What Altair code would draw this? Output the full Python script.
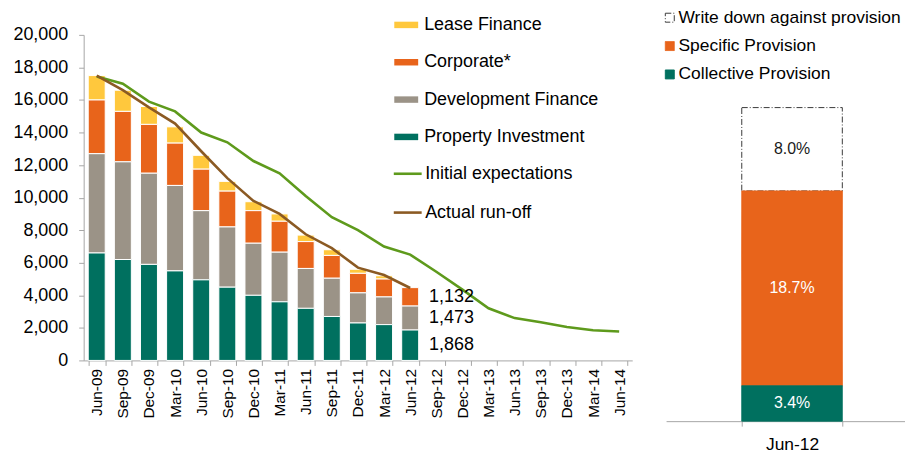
import altair as alt
import pandas as pd

# ---------------- data ----------------
quarters = ["Jun-09", "Sep-09", "Dec-09", "Mar-10", "Jun-10", "Sep-10", "Dec-10",
            "Mar-11", "Jun-11", "Sep-11", "Dec-11", "Mar-12", "Jun-12", "Sep-12",
            "Dec-12", "Mar-13", "Jun-13", "Sep-13", "Dec-13", "Mar-14", "Jun-14"]
bar_quarters = quarters[:13]

bar_series = ["Lease Finance", "Corporate*", "Development Finance", "Property Investment"]
lease_finance = [1500, 1300, 1100, 1000, 850, 600, 550, 450, 400, 350, 250, 200, 0]
corporate = [3300, 3100, 3000, 2600, 2550, 2200, 2000, 1900, 1650, 1400, 1200, 1100, 1132]
development_finance = [6100, 6000, 5600, 5250, 4250, 3700, 3200, 3050, 2450, 2350, 1850, 1700, 1473]
property_investment = [6600, 6200, 5900, 5500, 4950, 4500, 4000, 3600, 3200, 2700, 2300, 2200, 1868]

line_series = ["Initial expectations", "Actual run-off"]
initial_expectations = [17450, 17000, 15900, 15300, 14000, 13400, 12250, 11500, 10100, 8800,
                        8000, 7000, 6500, 5450, 4350, 3200, 2600, 2350, 2050, 1850, 1780]
actual_runoff = [17500, 16600, 15550, 14550, 12850, 11200, 9800, 9000, 7750, 6900, 5700, 5250, 4450]

label_quarter = "Jun-12"

provision_quarter = ["Jun-12"]
provision_types = ["Write down against provision", "Specific Provision", "Collective Provision"]
provision_values = [8.0, 18.7, 3.4]

# ---------------- style ----------------
FONT = "Liberation Sans"
C_LEASE = "#FFC83D"
C_CORP = "#E8641B"
C_DEV = "#9B9387"
C_PROP = "#00705F"
C_INIT = "#5E9A1C"
C_ACT = "#8B5A23"
AXIS_GREY = "#A6A6A6"

# ---------------- tables ----------------
stack_rank = {"Property Investment": 0, "Development Finance": 1, "Corporate*": 2, "Lease Finance": 3}
series_values = {"Lease Finance": lease_finance, "Corporate*": corporate,
                 "Development Finance": development_finance, "Property Investment": property_investment}
bar_rows = []
for s in bar_series:
    for q, v in zip(bar_quarters, series_values[s]):
        bar_rows.append({"quarter": q, "series": s, "value": v, "rank": stack_rank[s]})
bars_df = pd.DataFrame(bar_rows)

line_rows = []
for s, vals in zip(line_series, [initial_expectations, actual_runoff]):
    for q, v in zip(quarters, vals):
        line_rows.append({"quarter": q, "series": s, "value": v})
lines_df = pd.DataFrame(line_rows)

idx = bar_quarters.index(label_quarter)
lab_rows = []
cum = 0
for s in ["Property Investment", "Development Finance", "Corporate*"]:
    v = series_values[s][idx]
    lab_rows.append({"quarter": label_quarter, "mid": cum + v / 2, "text": f"{v:,}"})
    cum += v
labels_df = pd.DataFrame(lab_rows)

prov_rank = {provision_types[0]: 2, provision_types[1]: 1, provision_types[2]: 0}
prov_df = pd.DataFrame({
    "quarter": provision_quarter * len(provision_types),
    "type": provision_types,
    "value": provision_values,
    "rank": [prov_rank[t] for t in provision_types],
    "label": [f"{v:.1f}%" for v in provision_values],
})

# ---------------- left chart ----------------
x_scale = alt.Scale(domain=quarters, paddingInner=0.35, paddingOuter=0.175)
x_axis = alt.Axis(title=None, labelAngle=270, tickBand="extent", tickSize=5,
                  tickColor=AXIS_GREY, domainColor=AXIS_GREY, labelFontSize=15.5,
                  labelPadding=3, labelColor="black", labelFont=FONT)
y_scale = alt.Scale(domain=[0, 20000], nice=False)
y_axis = alt.Axis(title=None, values=list(range(0, 20001, 2000)), format=",.0f", grid=False,
                  tickSize=5, tickColor=AXIS_GREY, domainColor=AXIS_GREY,
                  labelFontSize=18, labelPadding=11, labelColor="black", labelFont=FONT)

bars = alt.Chart(bars_df).mark_bar(stroke="white", strokeWidth=1).encode(
    x=alt.X("quarter:N", sort=quarters, scale=x_scale, axis=x_axis),
    y=alt.Y("value:Q", stack="zero", scale=y_scale, axis=y_axis),
    color=alt.Color("series:N", scale=alt.Scale(domain=bar_series,
                    range=[C_LEASE, C_CORP, C_DEV, C_PROP]),
                    legend=alt.Legend(title=None, orient="none", legendX=312, legendY=-22,
                                      symbolType="M-1,-0.27H1V0.27H-1Z", symbolSize=576,
                                      symbolStrokeWidth=0, labelFontSize=18, labelFont=FONT,
                                      labelColor="black", rowPadding=16.5, labelOffset=6,
                                      labelLimit=300, padding=0)),
    order=alt.Order("rank:Q", sort="ascending"),
)

lines = alt.Chart(lines_df).mark_line(strokeWidth=2.6).encode(
    x=alt.X("quarter:N", sort=quarters, scale=x_scale, axis=x_axis),
    y=alt.Y("value:Q", stack=None, scale=y_scale, axis=y_axis),
    stroke=alt.Stroke("series:N", scale=alt.Scale(domain=line_series, range=[C_INIT, C_ACT]),
                      legend=alt.Legend(title=None, orient="none", legendX=310, legendY=124,
                                        symbolType="stroke", symbolSize=784,
                                        symbolStrokeWidth=2.6, labelFontSize=18,
                                        labelFont=FONT, labelColor="black", labelLimit=300,
                                        rowPadding=14, labelOffset=2, padding=0)),
)

value_labels = alt.Chart(labels_df).mark_text(align="left", baseline="middle", dx=19,
                                               fontSize=18, font=FONT, color="black").encode(
    x=alt.X("quarter:N", sort=quarters, scale=x_scale, axis=x_axis),
    y=alt.Y("mid:Q", scale=y_scale, axis=y_axis),
    text="text:N",
)

left = alt.layer(bars, lines, value_labels).properties(width=551, height=327)

# ---------------- right chart ----------------
rx_scale = alt.Scale(domain=provision_quarter, paddingInner=0.5, paddingOuter=0.344, align=0.547)
rx_axis = alt.Axis(title=None, labelAngle=0, tickBand="extent", tickSize=5,
                   tickColor=AXIS_GREY, domainColor=AXIS_GREY, labelFontSize=17.5,
                   labelPadding=9, labelColor="black", labelFont=FONT)
ry_scale = alt.Scale(domain=[0, 37.08], nice=False)

prov_legend = alt.Legend(title=None, orient="none", legendX=-5, legendY=-26,
                         symbolType="square", symbolSize=81, labelFontSize=17.5,
                         labelFont=FONT, labelColor="black", rowPadding=9.5,
                         labelOffset=0, padding=0, symbolStrokeWidth=1, labelLimit=300)

right_bar = alt.Chart(prov_df).mark_bar(strokeWidth=1).encode(
    x=alt.X("quarter:N", scale=rx_scale, axis=rx_axis),
    y=alt.Y("value:Q", stack="zero", scale=ry_scale, axis=None),
    fill=alt.Fill("type:N", scale=alt.Scale(domain=provision_types,
                  range=["white", C_CORP, C_PROP]), legend=prov_legend),
    stroke=alt.Stroke("type:N", scale=alt.Scale(domain=provision_types,
                      range=["#3A3A3A", C_CORP, C_PROP]), legend=prov_legend),
    strokeDash=alt.StrokeDash("type:N", scale=alt.Scale(domain=provision_types,
                              range=[[6, 2, 1, 2], [1, 0], [1, 0]]), legend=prov_legend),
    order=alt.Order("rank:Q", sort="ascending"),
)

right_text = alt.Chart(prov_df).transform_stack(
    stack="value", groupby=["quarter"], as_=["y0", "y1"],
    sort=[alt.SortField("rank", order="ascending")],
).transform_calculate(
    mid="(datum.y0 + datum.y1) / 2"
).mark_text(fontSize=16, font=FONT, baseline="middle").encode(
    x=alt.X("quarter:N", scale=rx_scale, axis=rx_axis),
    y=alt.Y("mid:Q", scale=ry_scale, axis=None),
    text="label:N",
    color=alt.condition(alt.datum.type == provision_types[0], alt.value("#1A1A1A"), alt.value("white")),
)

right = alt.layer(right_bar, right_text).properties(width=240, height=388)

chart = alt.hconcat(left, right, spacing=29).resolve_scale(
    color="independent", fill="independent", stroke="independent",
    strokeDash="independent", x="independent", y="independent",
).resolve_legend(
    color="independent", fill="independent", stroke="independent", strokeDash="independent",
).properties(
    padding={"left": 4, "top": 0, "right": 0, "bottom": 0}
).configure(font=FONT).configure_view(stroke=None)

chart.save("out.html", embed_options={"renderer": "svg", "actions": False})
